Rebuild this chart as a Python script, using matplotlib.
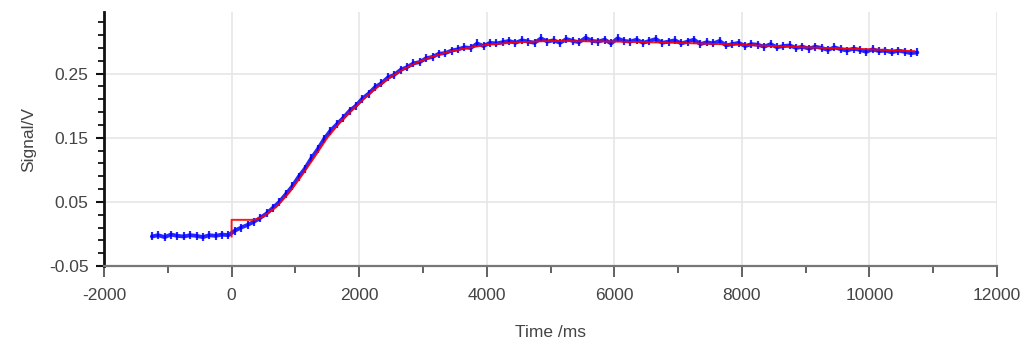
import matplotlib
matplotlib.use("Agg")
import matplotlib.pyplot as plt
from matplotlib.ticker import MultipleLocator, FixedLocator

# ---- data ----
time_ms = list(range(-1250, 10751, 100))
signal_v = [
    -0.004, -0.002, -0.005, -0.001, -0.003, -0.004, -0.002, -0.003, -0.005, -0.002,
    -0.003, -0.001, -0.002, 0.005, 0.010, 0.014, 0.019, 0.025, 0.032, 0.041,
    0.050, 0.062, 0.074, 0.089, 0.102, 0.118, 0.132, 0.148, 0.161, 0.171,
    0.181, 0.192, 0.200, 0.211, 0.219, 0.229, 0.235, 0.244, 0.248, 0.256,
    0.260, 0.266, 0.268, 0.274, 0.276, 0.281, 0.282, 0.286, 0.288, 0.291,
    0.290, 0.297, 0.293, 0.298, 0.297, 0.299, 0.301, 0.298, 0.302, 0.300,
    0.298, 0.305, 0.300, 0.302, 0.298, 0.304, 0.301, 0.299, 0.306, 0.301,
    0.300, 0.303, 0.297, 0.305, 0.301, 0.300, 0.303, 0.298, 0.301, 0.304,
    0.298, 0.300, 0.302, 0.297, 0.300, 0.303, 0.296, 0.299, 0.297, 0.301,
    0.294, 0.296, 0.298, 0.293, 0.296, 0.295, 0.292, 0.296, 0.291, 0.293,
    0.294, 0.290, 0.292, 0.289, 0.292, 0.290, 0.287, 0.291, 0.288, 0.286,
    0.289, 0.287, 0.284, 0.288, 0.285, 0.286, 0.283, 0.286, 0.284, 0.282,
    0.283,
]

fit_time_ms = [0, 0, 360, 500, 700, 900, 1100, 1300, 1500, 1700, 1900, 2100, 2300,
               2500, 2700, 2900, 3100, 3400, 3700, 4000, 4500, 5000, 6000, 7000,
               8000, 9000, 10000, 10700]
fit_signal_v = [-0.004, 0.022, 0.022, 0.027, 0.042, 0.064, 0.091, 0.120, 0.150,
                0.174, 0.194, 0.213, 0.230, 0.245, 0.257, 0.267, 0.275, 0.284,
                0.290, 0.295, 0.299, 0.301, 0.300, 0.298, 0.295, 0.291, 0.288,
                0.285]

x_ticks = [-2000, 0, 2000, 4000, 6000, 8000, 10000, 12000]
y_ticks = [-0.05, 0.05, 0.15, 0.25]
y_tick_labels = ["-0.05", "0.05", "0.15", "0.25"]

fam = ["Liberation Sans Narrow", "Liberation Sans", "DejaVu Sans"]
txt_color = "#444444"

fig = plt.figure(figsize=(10.33, 3.45), dpi=100)
ax = fig.add_axes([0.1007, 0.229, 0.8645, 0.736])

ax.plot(time_ms, signal_v, color="#0000ff", lw=2.8, marker="|", ms=6, mew=1.6,
        alpha=0.85, zorder=3, solid_capstyle="round")
ax.plot(fit_time_ms, fit_signal_v, color="#ff0000", lw=1.4, zorder=4, alpha=0.9)

ax.set_xlim(-2000, 12000)
ax.set_ylim(-0.05, 0.346)

ax.xaxis.set_major_locator(FixedLocator(x_ticks))
ax.xaxis.set_minor_locator(MultipleLocator(1000))
ax.yaxis.set_major_locator(FixedLocator(y_ticks))
ax.yaxis.set_minor_locator(FixedLocator([-0.05 + 0.02 * i for i in range(20)]))
ax.set_xticklabels([str(v) for v in x_ticks], family=fam, fontsize=12.5, color=txt_color)
ax.set_yticklabels(y_tick_labels, family=fam, fontsize=12.5, color=txt_color)

ax.grid(True, which="major", color="#e6e6e6", lw=1.2, zorder=0)
ax.set_axisbelow(True)

for s in ["top", "right"]:
    ax.spines[s].set_visible(False)
ax.spines["left"].set_color("#111111")
ax.spines["left"].set_linewidth(2)
ax.spines["bottom"].set_color("#777777")
ax.spines["bottom"].set_linewidth(1.6)

ax.tick_params(axis="x", which="major", direction="out", length=8, width=1.3,
               color="#555555", pad=8)
ax.tick_params(axis="x", which="minor", direction="out", length=5, width=1.3,
               color="#555555")
ax.tick_params(axis="y", which="major", direction="out", length=6, width=1.5,
               color="#111111", pad=5)
ax.tick_params(axis="y", which="minor", direction="out", length=4, width=1.3,
               color="#111111")

ax.set_xlabel("Time /ms", family=fam, fontsize=12.5, color=txt_color, labelpad=16)
ax.set_ylabel("Signal/V", family=fam, fontsize=12.5, color=txt_color, labelpad=9)

fig.savefig("out.png", dpi=100)
